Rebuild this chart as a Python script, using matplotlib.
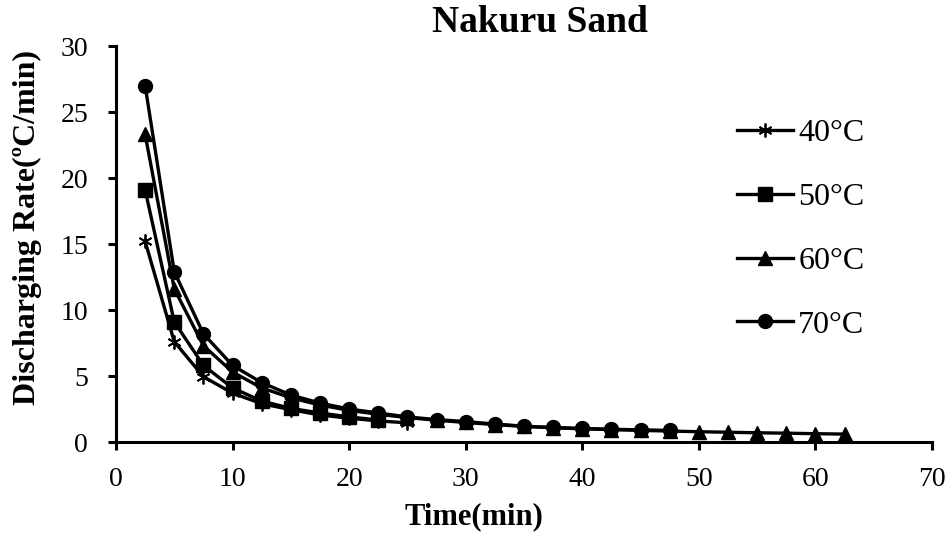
import numpy as np
import matplotlib.pyplot as plt

plt.rcParams['font.family'] = ['Liberation Serif', 'DejaVu Serif']

# data
t_40 = [2.5, 5, 7.5, 10, 12.5, 15, 17.5, 20, 22.5, 25]
r_40 = [15.2, 7.6, 4.95, 3.7, 2.9, 2.45, 2.05, 1.8, 1.6, 1.45]

t_50 = [2.5, 5, 7.5, 10, 12.5, 15, 17.5, 20, 22.5]
r_50 = [19.1, 9.1, 5.8, 4.1, 3.1, 2.55, 2.2, 1.9, 1.67]

t_60 = [2.5, 5, 7.5, 10, 12.5, 15, 17.5, 20, 22.5, 25, 27.5, 30, 32.5, 35,
        37.5, 40, 42.5, 45, 47.5, 50, 52.5, 55, 57.5, 60, 62.5]
r_60 = [23.3, 11.6, 7.3, 5.3, 4.1, 3.35, 2.8, 2.4, 2.1, 1.85, 1.65, 1.48,
        1.32, 1.18, 1.08, 1.0, 0.94, 0.88, 0.83, 0.78, 0.74, 0.7, 0.67, 0.63, 0.6]

t_70 = [2.5, 5, 7.5, 10, 12.5, 15, 17.5, 20, 22.5, 25, 27.5, 30, 32.5, 35,
        37.5, 40, 42.5, 45, 47.5]
r_70 = [27.0, 12.9, 8.2, 5.8, 4.5, 3.56, 2.95, 2.5, 2.2, 1.9, 1.7, 1.55,
        1.36, 1.2, 1.1, 1.03, 0.97, 0.92, 0.88]

labels = ['40°C', '50°C', '60°C', '70°C']

fig = plt.figure(figsize=(9.53, 5.35), dpi=100)
ax = fig.add_axes([0.1217, 0.1738, 0.8563, 0.7402])

ax.plot(t_40, r_40, color='black', lw=2.4, marker=(6, 2, 0), ms=10, mew=1.3, label=labels[0])
ax.plot(t_50, r_50, color='black', lw=2.4, marker='s', ms=9.5, label=labels[1])
ax.plot(t_60, r_60, color='black', lw=2.4, marker='^', ms=10.5, label=labels[2])
ax.plot(t_70, r_70, color='black', lw=2.4, marker='o', ms=10, label=labels[3])

ax.set_xlim(0, 70)
ax.set_ylim(0, 30)
ax.set_xticks(np.arange(0, 71, 10))
ax.set_yticks(np.arange(0, 31, 5))

for s in ['top', 'right']:
    ax.spines[s].set_visible(False)
for s in ['left', 'bottom']:
    ax.spines[s].set_linewidth(2.2)
ax.tick_params(direction='out', length=6, width=2.2, labelsize=20)
ax.tick_params(axis='x', pad=12)
ax.tick_params(axis='y', pad=14)

fig.text(0.497, 0.035, 'Time(min)', fontsize=22, fontweight='bold', ha='center', va='center')
fig.text(0.029, 0.575, 'Discharging Rate(ºC/min)', fontsize=23, fontweight='bold',
         ha='center', va='center', rotation=90)
fig.text(0.567, 0.958, 'Nakuru Sand', fontsize=27, fontweight='bold', ha='center', va='center')

ax.legend(loc='upper left', bbox_to_anchor=(0.742, 0.857), frameon=False,
          fontsize=23, handlelength=1.75, handletextpad=0.15, labelspacing=1.08,
          borderpad=0)

fig.savefig('out.png', dpi=100)
